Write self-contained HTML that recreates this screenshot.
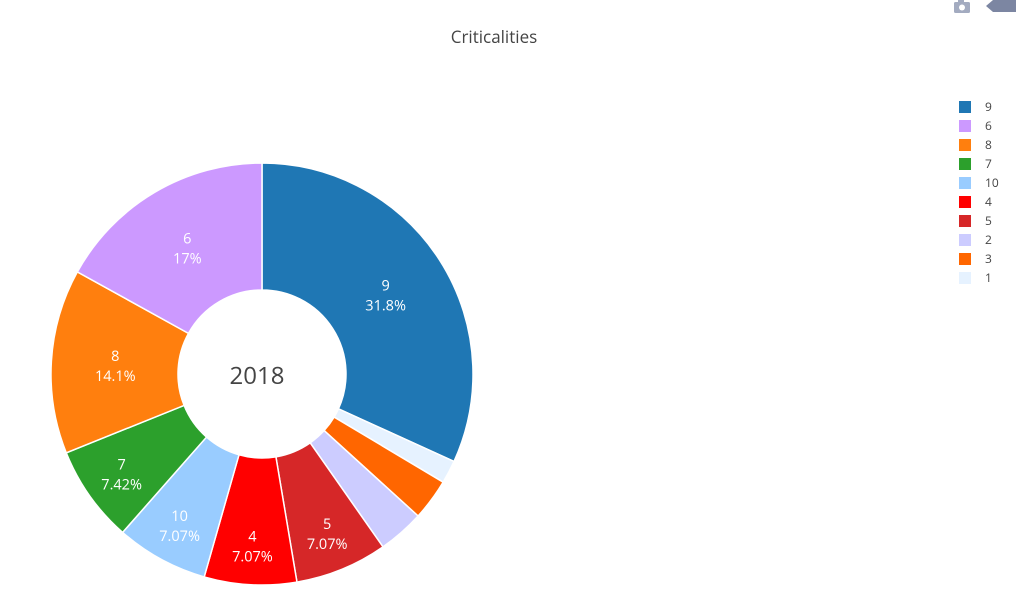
<!DOCTYPE html>
<html><head><meta charset="utf-8"><style>
body{margin:0;background:#fff;}
svg{display:block;font-family:"Open Sans","Liberation Sans",sans-serif;}
</style></head><body>
<svg id="chart" width="1016" height="613">
  <text x="494" y="43" text-anchor="middle" font-size="17" fill="#444">Criticalities</text>
  <g>
    <g>
      <rect x="954" y="2" width="16" height="11" rx="1.5" fill="#a3abc0"/>
      <rect x="958" y="0" width="6" height="3" fill="#a3abc0"/>
      <circle cx="962" cy="7.5" r="3" fill="#fff"/>
    </g>
    <polygon points="986,6 993,0 1016,0 1016,12 993,12" fill="#7c86a2"/>
  </g>
  <g id="pie"></g>
  <text x="257" y="384" text-anchor="middle" font-size="24" fill="#444">2018</text>
  <g id="legend"></g>
</svg>
<script>
const labels = ["9","1","3","2","5","4","10","7","8","6"];
const values = [90,5,9,10,20,20,20,21,40,48];
const colors = ["#1f77b4","#e6f2ff","#ff6600","#ccccff","#d62728","#ff0000","#99ccff","#2ca02c","#ff7f0e","#cc99ff"];
const legendOrder = ["9","6","8","7","10","4","5","2","3","1"];

const NS="http://www.w3.org/2000/svg";
const cx=262, cy=374, R=211, r=84;
const total=values.reduce((a,b)=>a+b,0);
const pie=document.getElementById('pie');
function pt(rad,a){return [cx+rad*Math.sin(a), cy-rad*Math.cos(a)];}
let acc=0;
values.forEach((v,i)=>{
  const a0=acc/total*2*Math.PI; acc+=v; const a1=acc/total*2*Math.PI;
  const large=(a1-a0)>Math.PI?1:0;
  const p0=pt(R,a0),p1=pt(R,a1),q1=pt(r,a1),q0=pt(r,a0);
  const path=document.createElementNS(NS,'path');
  path.setAttribute('d',`M${p0[0]},${p0[1]} A${R},${R} 0 ${large} 1 ${p1[0]},${p1[1]} L${q1[0]},${q1[1]} A${r},${r} 0 ${large} 0 ${q0[0]},${q0[1]} Z`);
  path.setAttribute('fill',colors[i]);
  path.setAttribute('stroke','#fff');
  path.setAttribute('stroke-width','1.5');
  
  
  pie.appendChild(path);
  const pct=v/total*100;
  if(pct>5){
    const lr = pct<10 ? 172 : 147;
    const m=pt(lr,(a0+a1)/2);
    const t=document.createElementNS(NS,'text');
    t.setAttribute('x',m[0]);t.setAttribute('y',m[1]-4);
    t.setAttribute('text-anchor','middle');t.setAttribute('fill','#fff');t.setAttribute('font-size','14.5');
    
    
    const s1=document.createElementNS(NS,'tspan');s1.setAttribute('x',m[0]);s1.textContent=labels[i];
    const s2=document.createElementNS(NS,'tspan');s2.setAttribute('x',m[0]);s2.setAttribute('dy','20');
    s2.textContent=String(parseFloat(pct.toPrecision(3)))+'%';
    t.appendChild(s1);t.appendChild(s2);pie.appendChild(t);
  }
});
const lg=document.getElementById('legend');
legendOrder.forEach((lab,k)=>{
  const i=labels.indexOf(lab);
  const y=107+k*19;
  const g=document.createElementNS(NS,'g');
  
  
  const rc=document.createElementNS(NS,'rect');
  rc.setAttribute('x',959);rc.setAttribute('y',y-6);rc.setAttribute('width',12);rc.setAttribute('height',12);
  rc.setAttribute('fill',colors[i]);
  const t=document.createElementNS(NS,'text');
  t.setAttribute('x',985);t.setAttribute('y',y+4);t.setAttribute('font-size','12');t.setAttribute('fill','#444');
  t.textContent=lab;
  g.appendChild(rc);g.appendChild(t);lg.appendChild(g);
});
</script>
</body></html>
